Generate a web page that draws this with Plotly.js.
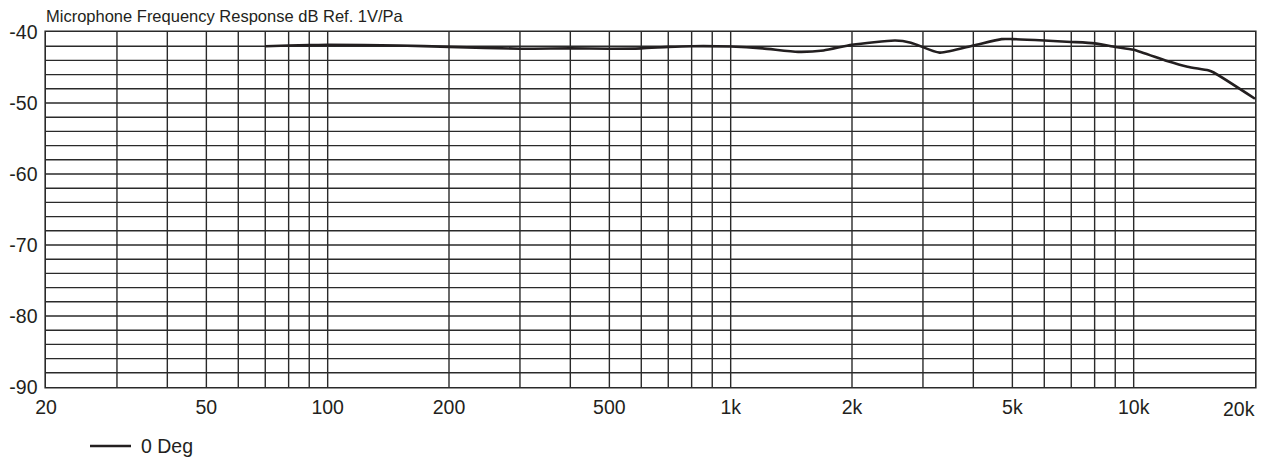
<!DOCTYPE html>
<html>
<head>
<meta charset="utf-8">
<script src="https://cdn.plot.ly/plotly-3.0.1.min.js"></script>
<style>
html,body{margin:0;padding:0;background:#fff;}
#chart{width:1268px;height:458px;}
#chart .gridlayer path, #chart .xlines-above, #chart .ylines-above {shape-rendering: geometricPrecision !important;}
</style>
</head>
<body>
<div id="chart"></div>
<script>
// Frequency (Hz) and response (dB re 1V/Pa)
var freqHz = [70, 80, 90, 100, 150, 200, 300, 400, 500, 600, 700, 800, 1000, 1200, 1470, 1700, 2000, 2560, 2800, 3300, 4000, 4700, 5000, 6000, 7000, 8000, 9000, 10000, 12100, 13600, 15300, 15800, 20000];
var response0Deg = [-42.0, -41.9, -41.85, -41.8, -41.9, -42.1, -42.35, -42.3, -42.35, -42.3, -42.1, -42.0, -42.05, -42.3, -42.8, -42.6, -41.8, -41.2, -41.5, -42.9, -41.9, -41.0, -41.0, -41.2, -41.4, -41.6, -42.1, -42.5, -44.1, -44.9, -45.4, -45.7, -49.4];
var seriesName = '0 Deg';

// Axis grid / tick labels
var xGridFreqs = [20, 30, 40, 50, 60, 70, 80, 90, 100, 200, 300, 400, 500, 600, 700, 800, 900, 1000, 2000, 3000, 4000, 5000, 6000, 7000, 8000, 9000, 10000, 20000];
var xLabelFreqs = [20, 50, 100, 200, 500, 1000, 2000, 5000, 10000, 20000];
var xLabelText = ['20', '50', '100', '200', '500', '1k', '2k', '5k', '10k', '20k'];
var yGridVals = [-90, -88, -86, -84, -82, -80, -78, -76, -74, -72, -70, -68, -66, -64, -62, -60, -58, -56, -54, -52, -50, -48, -46, -44, -42, -40];
var yLabelVals = [-90, -80, -70, -60, -50, -40];
var yLabelText = ['-90', '-80', '-70', '-60', '-50', '-40'];

var lastX = xLabelFreqs[xLabelFreqs.length - 1];
var xTickText = xGridFreqs.map(function (f) {
  var i = xLabelFreqs.indexOf(f);
  return (i >= 0 && f !== lastX) ? xLabelText[i] : '';
});
var yTickText = yGridVals.map(function (v) {
  var i = yLabelVals.indexOf(v);
  return i >= 0 ? yLabelText[i] : '';
});

var FONT = '"Liberation Sans", Arial, Helvetica, sans-serif';
var GRID = '#2a2a2a';
var INK = '#231f20';
var LINE_W = 2.6;

var traces = [{
  x: freqHz,
  y: response0Deg,
  type: 'scatter',
  mode: 'lines',
  name: seriesName,
  showlegend: false,
  line: {color: INK, width: LINE_W, shape: 'spline', smoothing: 0.6}
}];

// legend placement (px within the page) for the hand-drawn key
var PL = 46, PB = 387, PW = 1209, PH = 355;
var keyY = (PB - 446) / PH;

var layout = {
  width: 1268,
  height: 458,
  margin: {l: 46, r: 13, t: 32, b: 71, autoexpand: false},
  paper_bgcolor: '#ffffff',
  plot_bgcolor: '#ffffff',
  font: {family: FONT, size: 19.5, color: INK},
  title: {
    text: 'Microphone Frequency Response dB Ref. 1V/Pa',
    font: {family: FONT, size: 16.5, color: INK},
    x: 46 / 1268, xanchor: 'left', xref: 'container',
    y: 1 - 10 / 458, yanchor: 'top', yref: 'container',
    pad: {l: 0, t: 0, b: 0, r: 0}
  },
  xaxis: {
    type: 'log',
    range: [Math.log10(20), Math.log10(20000)],
    tickmode: 'array',
    tickvals: xGridFreqs,
    ticktext: xTickText,
    ticks: '',
    showgrid: true,
    gridcolor: GRID,
    gridwidth: 1.4,
    showline: true,
    linecolor: GRID,
    linewidth: 1.6,
    mirror: true,
    zeroline: false,
    automargin: false,
    tickfont: {family: FONT, size: 19.5, color: INK},
    ticklabelstandoff: 2
  },
  yaxis: {
    range: [-90, -40],
    tickmode: 'array',
    tickvals: yGridVals,
    ticktext: yTickText,
    ticks: '',
    showgrid: true,
    gridcolor: GRID,
    gridwidth: 1.4,
    showline: true,
    linecolor: GRID,
    linewidth: 1.6,
    mirror: true,
    zeroline: false,
    automargin: false,
    tickfont: {family: FONT, size: 19.5, color: INK},
    ticklabelstandoff: 3
  },
  shapes: [{
    type: 'line', xref: 'paper', yref: 'paper',
    x0: (90 - PL) / PW, x1: (131 - PL) / PW, y0: keyY, y1: keyY,
    line: {color: INK, width: LINE_W}
  }],
  annotations: [{
    text: xLabelText[xLabelText.length - 1],
    x: Math.log10(lastX), xref: 'x', xanchor: 'right', xshift: 2,
    y: 0, yref: 'paper', yanchor: 'top', yshift: -9,
    showarrow: false,
    font: {family: FONT, size: 19.5, color: INK}
  }, {
    text: seriesName,
    x: (139 - PL) / PW, xref: 'paper', xanchor: 'left',
    y: keyY, yref: 'paper', yanchor: 'middle',
    showarrow: false,
    font: {family: FONT, size: 19.5, color: INK}
  }],
  showlegend: false
};

Plotly.newPlot('chart', traces, layout, {displayModeBar: false, staticPlot: true});
</script>
</body>
</html>
